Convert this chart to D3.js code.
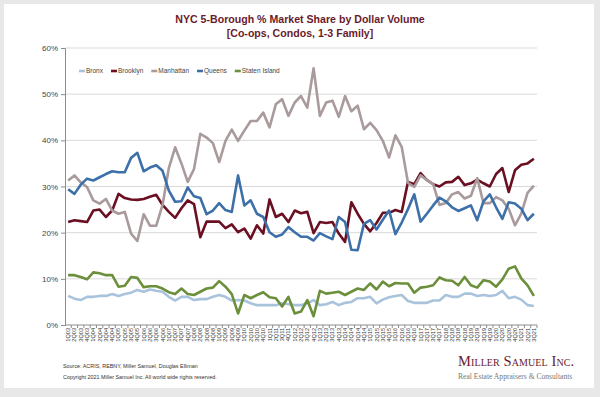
<!DOCTYPE html>
<html>
<meta charset="utf-8">
<head>
  <title>NYC 5-Borough % Market Share by Dollar Volume</title>
</head>

<style>
body { margin: 0; background: #e8e8e8; }
text { font-family: "Liberation Sans", Arial, sans-serif; }
.grid line { stroke: #d9d9d9; stroke-width: 1; }
.series { fill: none; stroke-width: 2.6; stroke-linejoin: round; }
</style>

<body>
  <svg width="600" height="397"></svg>

  <script src="https://cdnjs.cloudflare.com/ajax/libs/d3/7.8.5/d3.min.js"></script>
  <script>

var quarters = ["1Q03","2Q03","3Q03","4Q03","1Q04","2Q04","3Q04","4Q04","1Q05","2Q05","3Q05","4Q05",
  "1Q06","2Q06","3Q06","4Q06","1Q07","2Q07","3Q07","4Q07","1Q08","2Q08","3Q08","4Q08",
  "1Q09","2Q09","3Q09","4Q09","1Q10","2Q10","3Q10","4Q10","1Q11","2Q11","3Q11","4Q11",
  "1Q12","2Q12","3Q12","4Q12","1Q13","2Q13","3Q13","4Q13","1Q14","2Q14","3Q14","4Q14",
  "1Q15","2Q15","3Q15","4Q15","1Q16","2Q16","3Q16","4Q16","1Q17","2Q17","3Q17","4Q17",
  "1Q18","2Q18","3Q18","4Q18","1Q19","2Q19","3Q19","4Q19","1Q20","2Q20","3Q20","4Q20",
  "1Q21","2Q21","3Q21"];

var boroughs = ["Bronx", "Brooklyn", "Manhattan", "Queens", "Staten Island"];
var colors = ["#a9c3dc", "#6b0f22", "#a99a9b", "#3d70a8", "#6b8f3b"];

// % share of dollar volume
var bronx = [6.3,5.7,5.4,6.1,6.1,6.3,6.3,6.7,6.3,6.7,7.0,7.6,
  7.2,7.7,7.4,7.2,6.1,5.3,6.1,6.1,5.4,5.6,5.6,6.1,
  6.5,6.1,5.3,5.4,5.3,4.7,4.3,4.3,4.3,4.3,4.7,4.5,
  4.3,4.3,4.7,5.4,4.3,4.5,5.0,4.3,4.8,5.0,5.8,5.8,
  6.1,4.7,5.5,6.0,6.3,6.5,5.2,4.8,4.8,4.8,5.3,5.3,
  6.5,6.1,6.1,6.8,6.8,6.3,6.5,6.3,6.5,7.4,5.8,6.1,
  5.5,4.3,4.1];

var brooklyn = [22.3,22.7,22.5,22.3,24.8,25.0,23.4,24.8,28.4,27.5,27.2,27.1,
  27.3,27.8,28.2,26.0,24.5,23.2,25.3,27.0,26.2,19.0,22.4,22.4,
  22.4,21.0,21.8,20.1,20.9,18.7,21.6,19.8,27.2,23.4,24.1,22.3,
  24.8,24.2,24.5,19.9,22.3,22.1,22.3,19.8,18.0,26.6,24.1,21.9,
  20.3,22.1,24.3,24.3,24.9,24.5,31.0,30.5,32.9,31.4,30.5,30.0,
  30.9,31.0,32.1,30.3,30.7,31.5,30.7,30.0,32.7,34.0,28.8,33.5,
  34.7,35.0,36.0];

var manhattan = [31.3,32.4,30.9,29.9,27.0,26.3,27.3,24.8,24.1,24.5,19.8,18.2,
  24.0,21.5,21.5,26.0,34.0,38.5,35.0,31.0,33.8,41.4,40.6,39.4,
  35.3,39.9,42.3,39.9,42.1,44.2,44.2,46.0,42.8,47.8,48.9,45.3,
  48.2,49.6,47.1,55.6,45.3,48.2,48.6,45.1,49.6,46.3,47.5,42.4,
  43.8,42.2,39.9,36.3,41.1,38.6,30.8,29.9,32.4,31.4,30.5,26.0,
  26.4,28.3,28.8,27.4,28.0,31.8,26.4,26.4,27.7,27.0,25.2,21.6,
  24.1,28.6,30.2];

var queens = [29.4,28.4,30.4,31.7,31.3,32.0,32.7,33.3,33.1,33.1,36.2,37.3,
  33.3,34.1,34.6,33.4,29.1,26.7,26.8,29.8,27.9,27.5,24.0,24.8,
  26.4,24.9,24.5,32.4,25.9,27.0,24.1,23.4,20.1,19.1,19.6,21.2,
  20.1,19.1,19.1,18.3,19.9,19.2,18.6,23.4,22.3,16.3,16.2,21.9,
  22.7,20.7,22.8,24.8,19.7,22.2,25.1,28.3,22.4,24.1,25.9,27.6,
  26.8,25.5,24.7,25.3,25.9,22.7,26.8,28.3,25.5,23.0,26.6,26.3,
  25.2,22.7,24.1];

var statenIsland = [10.8,10.8,10.4,9.9,11.4,11.2,10.8,10.8,8.3,8.5,10.4,10.2,
  8.2,8.4,8.4,7.9,7.1,6.7,7.9,6.7,6.5,7.2,7.9,8.1,
  9.5,8.3,6.7,2.5,6.5,5.8,6.5,7.1,6.0,5.8,4.0,6.1,
  2.5,2.9,5.4,1.9,7.4,6.8,7.0,7.2,6.5,7.2,7.9,7.6,
  9.0,7.7,9.4,8.4,9.1,9.0,9.0,7.0,8.1,8.3,8.6,10.3,
  9.7,9.6,8.6,10.4,8.6,8.1,9.7,9.4,8.3,9.9,12.2,12.7,
  10.1,8.6,6.3];

var yTicks = [0, 10, 20, 30, 40, 50, 60];

var seriesValues = [bronx, brooklyn, manhattan, queens, statenIsland];

var svg = d3.select('svg');

// white card on grey background
svg.append('rect')
  .attr('x', 4).attr('y', 4)
  .attr('width', 590).attr('height', 384)
  .attr('fill', 'white');

// plot box (window.top is read-only, so no plain "top")
var plotL = 65, plotR = 537, plotT = 48, plotB = 325;

var x = d3.scalePoint()
  .domain(quarters)
  .range([plotL, plotR])
  .padding(0.5);

var y = d3.scaleLinear()
  .domain([0, 60])
  .range([plotB, plotT]);

// title
var title = svg.append('text')
  .attr('x', 300).attr('y', 23)
  .attr('text-anchor', 'middle')
  .attr('fill', '#6b1a2b')
  .style('font-weight', 'bold')
  .style('font-size', '10.6px');
title.append('tspan').attr('x', 300).text('NYC 5-Borough % Market Share by Dollar Volume');
title.append('tspan').attr('x', 300).attr('dy', 14).text('[Co-ops, Condos, 1-3 Family]');

// gridlines
svg.append('g')
  .attr('class', 'grid')
  .selectAll('line')
  .data(yTicks.filter(function(d) { return d > 0; }))
  .enter()
  .append('line')
  .attr('x1', plotL).attr('x2', plotR)
  .attr('y1', function(d) { return y(d); })
  .attr('y2', function(d) { return y(d); });

// y axis
var yAxis = svg.append('g')
  .attr('transform', 'translate(' + plotL + ',0)')
  .call(d3.axisLeft(y).tickValues(yTicks).tickSize(4).tickPadding(3)
    .tickFormat(function(d) { return d + '%'; }));
yAxis.select('.domain').attr('stroke', '#8c8c8c');
yAxis.selectAll('.tick line').attr('stroke', '#8c8c8c');
yAxis.selectAll('text')
  .attr('fill', '#444')
  .style('font-size', '8px')
  .style('font-family', '"Liberation Sans", Arial, sans-serif');

// x axis: ticks between categories, rotated labels
var step = x.step();
var xAxisG = svg.append('g');
xAxisG.append('line')
  .attr('x1', plotL).attr('x2', plotR)
  .attr('y1', plotB).attr('y2', plotB)
  .attr('stroke', '#8c8c8c');
xAxisG.selectAll('line.tk')
  .data(quarters)
  .enter()
  .append('line')
  .attr('class', 'tk')
  .attr('x1', function(d) { return x(d) + step / 2; })
  .attr('x2', function(d) { return x(d) + step / 2; })
  .attr('y1', plotB).attr('y2', plotB + 3)
  .attr('stroke', '#8c8c8c');
xAxisG.selectAll('text')
  .data(quarters)
  .enter()
  .append('text')
  .attr('transform', function(d) { return 'translate(' + (x(d) + 2) + ',' + (plotB + 3) + ') rotate(-90)'; })
  .attr('text-anchor', 'end')
  .attr('fill', '#333')
  .style('font-size', '5.6px')
  .text(function(d) { return d; });

// lines
var line = d3.line()
  .x(function(d, i) { return x(quarters[i]); })
  .y(function(d) { return y(d); });

svg.append('g')
  .selectAll('path')
  .data(seriesValues)
  .enter()
  .append('path')
  .attr('class', 'series')
  .attr('stroke', function(d, i) { return colors[i]; })
  .attr('d', line);

// legend
var legend = svg.append('g').attr('transform', 'translate(79,71)');
var lx = 0;
boroughs.forEach(function(name, i) {
  legend.append('line')
    .attr('x1', lx).attr('x2', lx + 6)
    .attr('y1', 0).attr('y2', 0)
    .attr('stroke', colors[i])
    .attr('stroke-width', 2.6);
  var t = legend.append('text')
    .attr('x', lx + 7).attr('y', 2.3)
    .attr('fill', '#444')
    .style('font-size', '6.5px')
    .text(name);
  lx += 7 + t.node().getComputedTextLength() + 8;
});

// source notes
svg.append('text')
  .attr('x', 63).attr('y', 368)
  .attr('fill', '#333')
  .style('font-size', '5.4px')
  .text('Source: ACRIS, REBNY, Miller Samuel, Douglas Elliman');
svg.append('text')
  .attr('x', 63).attr('y', 378.5)
  .attr('fill', '#333')
  .style('font-size', '5.4px')
  .text('Copyright 2021 Miller Samuel Inc.  All world wide rights reserved.');

// logo
svg.append('text')
  .attr('x', 458).attr('y', 366)
  .attr('fill', '#6b1a2b')
  .style('font-family', '"Liberation Serif", "DejaVu Serif", serif')
  .style('font-variant', 'small-caps')
  .style('font-size', '14.5px')
  .style('letter-spacing', '0.1px')
  .text('Miller Samuel Inc.');
svg.append('text')
  .attr('x', 458).attr('y', 379)
  .attr('fill', '#777')
  .style('font-family', '"Liberation Serif", "DejaVu Serif", serif')
  .style('font-size', '7.6px')
  .text('Real Estate Appraisers & Consultants');

  </script>
</body>
</html>
